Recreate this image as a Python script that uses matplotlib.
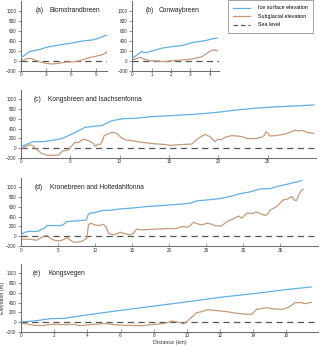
import matplotlib
matplotlib.use("Agg")
import matplotlib.pyplot as plt
from matplotlib.lines import Line2D

plt.rcParams['font.family'] = ['Liberation Sans', 'DejaVu Sans']

# ---------------- data ----------------
a_ice_x = [0, 0.48, 1.0, 1.48, 2.28, 3.0, 4.28, 6.04, 7.48, 8.48, 9.08, 9.68, 10.25]
a_ice_y = [60, 113, 179, 199, 225, 265, 305, 351, 397, 411, 437, 477, 510]
a_sub_x = [0, 0.68, 1.2, 1.68, 2.28, 3.0, 3.68, 4.48, 5.48, 6.04, 6.88, 7.48, 8.28, 9.08, 9.68, 10.08, 10.25]
a_sub_y = [0, 40, 46, 13, -26, -53, -66, -53, -26, -26, -7, 26, 66, 93, 119, 146, 179]

b_ice_x = [0, 0.48, 0.74, 1.0, 1.5, 2.03, 2.55, 3.07, 3.76, 4.1, 4.38]
b_ice_y = [47, 180, 160, 193, 247, 280, 300, 360, 400, 433, 453]
b_sub_x = [0, 0.4, 0.65, 0.91, 1.34, 1.7, 2.03, 2.55, 3.07, 3.6, 3.96, 4.2, 4.38]
b_sub_y = [13, 67, 27, 0, -7, -20, 0, 13, 33, 80, 180, 213, 200]

c_ice_x = [0, 0.4, 1.25, 2.3, 2.9, 4.0, 4.6, 5.65, 6.5, 7.7, 8.2, 9.2, 10.4, 11.7, 13.1,
           15.1, 17.5, 18.8, 20.2, 21.5, 23.6, 25.6, 27.6, 29.7]
c_ice_y = [27, 62, 130, 130, 150, 185, 233, 336, 425, 452, 460, 560, 603, 610, 644,
           664, 692, 712, 740, 774, 815, 842, 863, 884]
c_sub_x = [0, 0.43, 0.93, 1.27, 1.6, 2.1, 2.6, 3.3, 3.8, 4.0, 4.3, 4.8, 5.1, 5.45, 5.8,
           6.1, 6.3, 6.8, 7.3, 7.55, 7.8, 8.05, 8.3, 8.4, 8.9, 9.4, 9.8, 10.1, 10.6,
           11.1, 12.1, 13.5, 14.5, 15.2, 15.95, 17.3, 17.97, 18.65, 19.15, 19.66, 20.0,
           20.3, 20.7, 21.35, 21.85, 22.4, 22.9, 23.7, 24.4, 24.7, 24.8, 25.0, 25.2,
           25.8, 26.8, 27.8, 28.1, 28.5, 29.0, 29.65]
c_sub_y = [-20, 33, 67, 33, -33, -113, -147, -153, -147, -100, -60, -40, 33, 113, 113,
           153, 180, 153, 100, 33, 80, 73, 167, 247, 300, 320, 287, 220, 167,
           153, 120, 87, 73, 53, 67, 80, 200, 280, 233, 133, 180,
           167, 220, 253, 247, 233, 193, 193, 220, 267, 333, 313, 247,
           253, 287, 367, 353, 360, 320, 300]

d_ice_x = [0, 0.54, 1.2, 1.67, 2.34, 2.8, 3.2, 3.47, 4.4, 5.5, 5.95, 6.2, 7.5, 8.8, 9.1,
           9.3, 10.2, 10.9, 12.0, 13.4, 15.2, 17.4, 19.7, 21.9, 22.8, 23.7, 25.1, 26.9,
           28.7, 29.6, 30.9, 32.3, 33.6, 34.5, 35.9, 36.8, 37.9]
d_ice_y = [27, 82, 102, 95, 102, 143, 163, 218, 218, 218, 265, 300, 313, 333, 449,
           469, 490, 524, 530, 558, 578, 612, 633, 660, 673, 721, 741, 769,
           830, 871, 905, 966, 973, 1014, 1061, 1095, 1136]
d_sub_x = [0, 1.2, 2.1, 2.6, 3.0, 3.5, 3.9, 4.6, 5.3, 5.85, 6.2, 6.6, 7.1, 8.0, 8.4, 8.9,
           9.1, 9.4, 10.0, 10.6, 11.1, 11.5, 11.8, 12.5, 12.9, 13.4, 14.1, 14.7, 15.2,
           15.6, 16.5, 17.9, 20.1, 21.0, 21.7, 22.4, 22.8, 23.3, 23.7, 24.4, 25.1, 25.8,
           26.2, 27.1, 27.8, 28.7, 29.4, 29.8, 30.5, 31.4, 31.8, 32.5, 33.0, 33.4, 33.6,
           34.5, 35.4, 35.9, 36.6, 36.9, 37.2, 37.5, 37.9, 38.1]
d_sub_y = [-61, -61, -82, -41, -7, 20, -41, -88, -95, -61, -27, -75, -122, -116, -88, -41,
           231, 265, 231, 218, 245, 184, 61, 27, 48, 82, 48, 27, 61,
           143, 129, 143, 156, 156, 197, 184, 211, 286, 258, 231, 265, 245,
           211, 211, 299, 361, 415, 367, 469, 469, 497, 449, 422, 469, 531,
           605, 741, 755, 810, 741, 728, 844, 945, 959]

e_ice_x = [0, 0.76, 1.78, 2.6, 3.82, 5.86, 7.9, 9.94, 12.0, 14.0, 16.1, 17.5]
e_ice_y = [0, 20, 68, 75, 137, 233, 322, 411, 507, 582, 671, 719]
e_sub_x = [0, 0.35, 0.76, 1.37, 1.78, 2.8, 3.2, 3.5, 3.8, 4.4, 5.04, 5.45, 6.06, 7.3, 8.1,
           8.7, 9.1, 9.3, 9.5, 9.7, 9.8, 10.1, 10.6, 10.9, 11.2, 11.8, 12.4, 13.0, 13.6,
           13.9, 14.2, 14.5, 14.8, 15.2, 15.8, 16.2, 16.5, 16.9, 17.1, 17.5]
e_sub_y = [-27, -41, -68, -75, -48, -55, -48, -75, -68, -48, -34, -48, -68, -75, -48,
           -27, 21, 7, -7, -27, -41, 41, 192, 212, 253, 233, 212, 178, 158,
           158, 260, 274, 295, 267, 260, 315, 397, 397, 377, 404]

labels = ["(a)", "(b)", "(c)", "(d)", "(e)"]
names = ["Blomstrandbreen", "Conwaybreen", "Kongsbreen and Isachsenfonna",
         "Kronebreen and Holtedahlfonna", "Kongsvegen"]
legend_labels = ["Ice surface elevation", "Subglacial elevation", "Sea level"]
yticks = [-200, 0, 200, 400, 600, 800, 1000]

# ---------------- style ----------------
ICE = "#62afe0"
SUB = "#c49a7c"
SEA = "#555555"
SPINE = "#6a6a6a"
W, H = 320, 346

fig = plt.figure(figsize=(W / 100, H / 100), dpi=100)

def px_axes(left, top, right, bottom):
    return fig.add_axes([left / W, 1 - bottom / H, (right - left) / W, (bottom - top) / H])

panels = [
    (px_axes(21, 0.5, 107.3, 70.7), a_ice_x, a_ice_y, a_sub_x, a_sub_y, (0, 10.3), [0, 3, 6, 9], 0.174, 0.326),
    (px_axes(132.3, 0.5, 219, 70.7), b_ice_x, b_ice_y, b_sub_x, b_sub_y, (0, 4.47), [0, 1, 2, 3, 4], 0.157, 0.30),
    (px_axes(21, 89.6, 316, 157.7), c_ice_x, c_ice_y, c_sub_x, c_sub_y, (0, 29.9), [0, 5, 10, 15, 20, 25], 0.044, 0.092),
    (px_axes(21, 177.5, 318, 246), d_ice_x, d_ice_y, d_sub_x, d_sub_y, (0, 40.1), [0, 5, 10, 15, 20, 25, 30, 35], 0.047, 0.098),
    (px_axes(21, 263.6, 318, 331.7), e_ice_x, e_ice_y, e_sub_x, e_sub_y, (0, 17.9), [0, 2, 4, 6, 8, 10, 12, 14, 16], 0.040, 0.094),
]

for i, (ax, ix, iy, sx, sy, xl, xt, lx, nx) in enumerate(panels):
    ax.axhline(0, color=SEA, lw=0.9, dashes=(5, 3.5), zorder=1)
    ax.plot(ix, iy, color=ICE, lw=0.9, zorder=3)
    ax.plot(sx, sy, color=SUB, lw=0.9, zorder=2)
    ax.set_xlim(*xl)
    ax.set_ylim(-200, 1200)
    ax.set_xticks(xt)
    ax.set_yticks(yticks)
    for s in ("top", "right"):
        ax.spines[s].set_visible(False)
    for s in ("left", "bottom"):
        ax.spines[s].set_color(SPINE)
        ax.spines[s].set_linewidth(0.7)
    ax.tick_params(axis="both", labelsize=3.3, colors=SPINE, labelcolor="#333333",
                   width=0.5, length=2, pad=1.2)
    ax.tick_params(axis="x", direction="in")
    ax.tick_params(axis="y", direction="out")
    tr = ax.get_yaxis_transform()
    ax.text(lx, 1000, labels[i], transform=tr, fontsize=4.8, va="center", ha="left", color="#222222")
    ax.text(nx, 1000, names[i], transform=tr, fontsize=4.8, va="center", ha="left", color="#222222")

ax_e = panels[4][0]
ax_e.set_xlabel("Distance (km)", fontsize=3.9, labelpad=1, color="#333333")
ax_e.set_ylabel("Elevation (m)", fontsize=3.9, labelpad=1, color="#333333")

handles = [Line2D([], [], color=ICE, lw=0.9),
           Line2D([], [], color=SUB, lw=0.9),
           Line2D([], [], color=SEA, lw=0.9, dashes=(3.5, 2.5))]
leg = fig.legend(handles, legend_labels, loc="upper left", bbox_to_anchor=(228 / W, 1.0),
                 fontsize=3.9, frameon=True, fancybox=False, handlelength=3.0,
                 handletextpad=1.5, borderpad=1.0, labelspacing=0.65, borderaxespad=0)
leg.get_frame().set_edgecolor("#777777")
leg.get_frame().set_linewidth(0.6)

fig.savefig("out.png", dpi=100)
